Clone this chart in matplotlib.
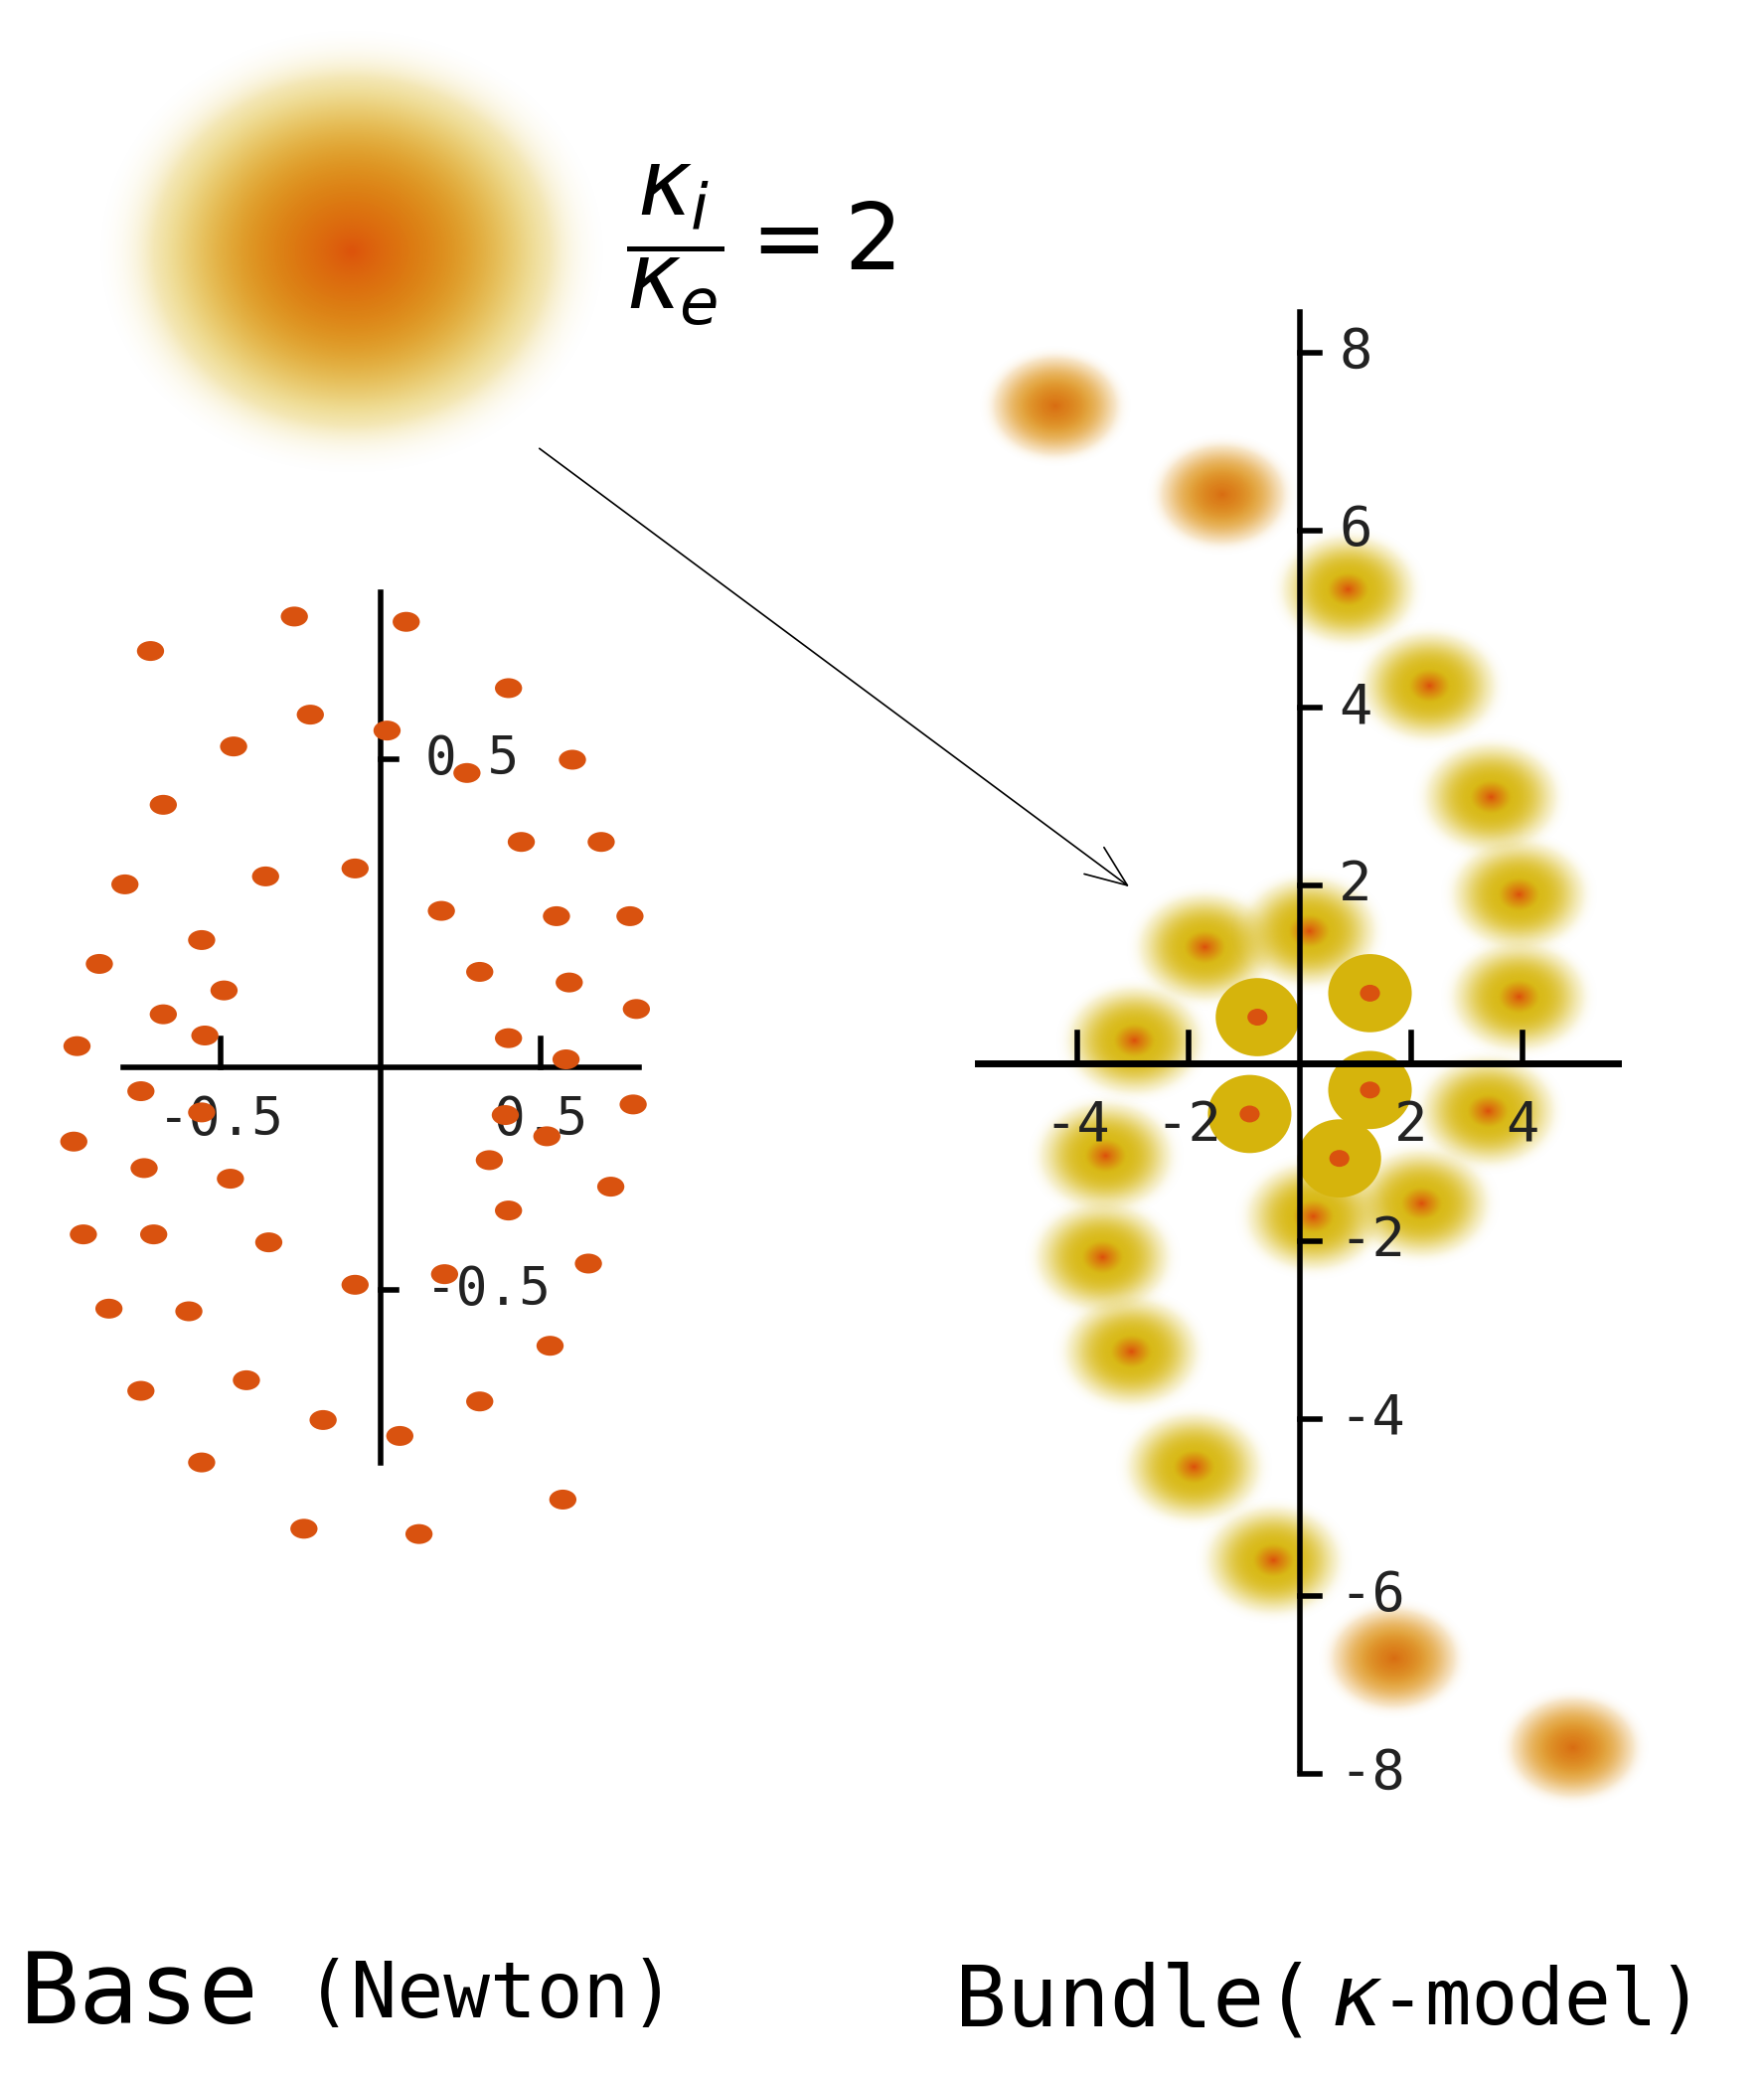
import matplotlib
matplotlib.use("Agg")
import matplotlib.pyplot as plt
from matplotlib.patches import Ellipse, FancyArrowPatch
import numpy as np

W, H = 1330.0, 1565.0  # reference layout units (pixels of the reference view)

# left panel: Newton base points (x, y)
base_x = [-0.27, 0.08, -0.72, 0.40, -0.22, 0.02, -0.46, 0.60, 0.27, -0.68, 0.44, 0.69,
          -0.08, -0.36, -0.80, 0.19, 0.55, 0.78, -0.56, -0.88, 0.31, 0.59, -0.49, -0.68,
          0.80, -0.55, 0.40, -0.95, 0.58, -0.75, -0.56, 0.79, 0.39, -0.96, 0.52, -0.74,
          0.34, -0.47, 0.72, 0.40, -0.93, -0.71, -0.35, 0.65, 0.20, -0.08, -0.85, -0.60,
          0.53, -0.42, -0.75, 0.31, -0.18, 0.06, -0.56, 0.57, -0.24, 0.12]
base_y = [1.70, 1.68, 1.57, 1.43, 1.33, 1.27, 1.21, 1.16, 1.11, 0.99, 0.85, 0.85,
          0.75, 0.72, 0.69, 0.59, 0.57, 0.57, 0.48, 0.39, 0.36, 0.32, 0.29, 0.20,
          0.22, 0.12, 0.11, 0.08, 0.03, -0.09, -0.17, -0.14, -0.18, -0.28, -0.26, -0.38,
          -0.35, -0.42, -0.45, -0.54, -0.63, -0.63, -0.66, -0.74, -0.78, -0.82, -0.91, -0.92,
          -1.05, -1.18, -1.22, -1.26, -1.33, -1.39, -1.49, -1.63, -1.74, -1.76]

# right panel: kappa-model bundle points
halo_x = [-4.4, -1.4, 1.7, 4.9]
halo_y = [7.4, 6.4, -6.7, -7.7]
blur_x = [0.86, 2.33, 3.43, 3.93, 3.93, 3.38, 2.19, -1.71, 0.17, -2.98, -3.50, -3.55, -3.02, -1.90, -0.48, 0.24]
blur_y = [5.33, 4.25, 2.99, 1.90, 0.75, -0.54, -1.58, 1.31, 1.48, 0.25, -1.04, -2.18, -3.25, -4.54, -5.60, -1.73]
core_x = [-0.76, 1.26, -0.90, 1.26, 0.71]
core_y = [0.52, 0.79, -0.57, -0.30, -1.07]

ORANGE = "#d9520f"
YELLOW = "#d6b40c"


def blob(ax, cx, cy, rx, ry, inner, outer, soft=1.0, mix=1.0, n=160):
    t = np.linspace(-1.6, 1.6, n)
    X, Y = np.meshgrid(t, t)
    r = np.sqrt(X ** 2 + Y ** 2)
    c0, c1 = np.array(matplotlib.colors.to_rgb(inner)), np.array(matplotlib.colors.to_rgb(outer))
    f = np.clip(r * mix, 0, 1)[..., None] ** 0.8
    rgba = np.zeros((n, n, 4))
    rgba[..., :3] = c0 * (1 - f) + c1 * f
    alpha = np.exp(-(r / soft) ** 4 * 0.8) * np.clip((1.55 - r) / 0.35, 0, 1)
    rgba[..., 3] = np.clip(alpha, 0, 1)
    ax.imshow(rgba, extent=(cx - 1.6 * rx, cx + 1.6 * rx, cy - 1.6 * ry, cy + 1.6 * ry),
              origin="lower", aspect="auto", interpolation="bilinear", zorder=2)


def box(x0, y0, x1, y1):
    return [x0 / W, 1 - y1 / H, (x1 - x0) / W, (y1 - y0) / H]


fig = plt.figure(figsize=(17.75, 20.88), dpi=100)

# overlay for decorations
ov = fig.add_axes([0, 0, 1, 1])
ov.set_xlim(0, W)
ov.set_ylim(H, 0)
ov.axis("off")
blob(ov, 265, 190, 125, 110, "#dc500a", "#dcb418", soft=1.1, mix=0.9)
ov.text(472, 185, r"$\dfrac{\kappa_i}{\kappa_e}=2$", fontsize=66, va="center", ha="left")
ov.add_patch(FancyArrowPatch((405, 337), (853, 670), arrowstyle="->,head_length=30,head_width=12",
                             lw=1.2, color="black", mutation_scale=1))
ov.text(15, 1505, "Base", family="DejaVu Sans Mono", fontsize=72, va="center", ha="left")
ov.text(230, 1505, "(Newton)", family="DejaVu Sans Mono", fontsize=56, va="center", ha="left")
ov.text(720, 1510, "Bundle(", family="DejaVu Sans Mono", fontsize=62, va="center", ha="left")
ov.text(1003, 1510, r"$\kappa$", fontsize=62, va="center", ha="left")
ov.text(1040, 1510, "-model)", family="DejaVu Sans Mono", fontsize=56, va="center", ha="left")

# left panel
ax = fig.add_axes(box(40, 440, 500, 1180))
ax.set_xlim((40 - 287) / 241, (500 - 287) / 241)
ax.set_ylim((805 - 1180) / 200, (805 - 440) / 200)
ax.axis("off")
ax.plot([(93 - 287) / 241, (482 - 287) / 241], [0, 0], color="black", lw=4, zorder=1)
ax.plot([0, 0], [(805 - 1103) / 200, (805 - 447) / 200], color="black", lw=4, zorder=1)
for v in (-0.5, 0.5):
    ax.plot([v, v], [0, 0.11], color="black", lw=4)
    ax.text(v, -0.2, f"{v:g}", family="DejaVu Sans Mono", fontsize=38,
            ha="center", va="center", color="#222222")
for yy, lab in ((1.16, "0.5"), (-0.84, "-0.5")):
    ax.plot([0, 0.05], [yy, yy], color="black", lw=4)
    ax.text(0.14, yy, lab, family="DejaVu Sans Mono", fontsize=38, ha="left", va="center", color="#222222")
for x, y in zip(base_x, base_y):
    ax.add_patch(Ellipse((x, y), 0.085, 0.075, color=ORANGE, lw=0, zorder=3))

# right panel
bx = fig.add_axes(box(700, 220, 1270, 1380))
bx.set_xlim((700 - 980) / 42, (1270 - 980) / 42)
bx.set_ylim((802 - 1380) / 67, (802 - 220) / 67)
bx.axis("off")
for x, y in zip(halo_x, halo_y):
    blob(bx, x, y, 0.9, 0.45, "#d86a10", "#e09a28", soft=1.05, mix=1.5)
for x, y in zip(blur_x, blur_y):
    blob(bx, x, y, 0.95, 0.48, "#dc4a0a", "#d8b812", soft=1.0, mix=2.6)
for x, y in zip(core_x, core_y):
    bx.add_patch(Ellipse((x, y), 1.5, 0.88, color=YELLOW, lw=0, zorder=3))
    bx.add_patch(Ellipse((x, y), 0.36, 0.19, color=ORANGE, lw=0, zorder=4))
bx.plot([(737 - 980) / 42, (1220 - 980) / 42], [0, 0], color="black", lw=5, zorder=5)
bx.plot([0, 0], [(802 - 1335) / 67, (802 - 235) / 67], color="black", lw=4, zorder=5)
for v in (-4, -2, 2, 4):
    bx.plot([v, v], [0, 0.35], color="black", lw=4, zorder=5)
    bx.text(v, -0.7, f"{v}", family="DejaVu Sans Mono", fontsize=40, ha="center", va="center",
            color="#222222", zorder=6)
for v in (8, 6, 4, 2, -2, -4, -6, -8):
    bx.plot([0, 0.35], [v, v], color="black", lw=4, zorder=5)
    bx.text(0.7, v, f"{v}", family="DejaVu Sans Mono", fontsize=40, ha="left", va="center",
            color="#222222", zorder=6)

fig.savefig("out.png", dpi=100)
